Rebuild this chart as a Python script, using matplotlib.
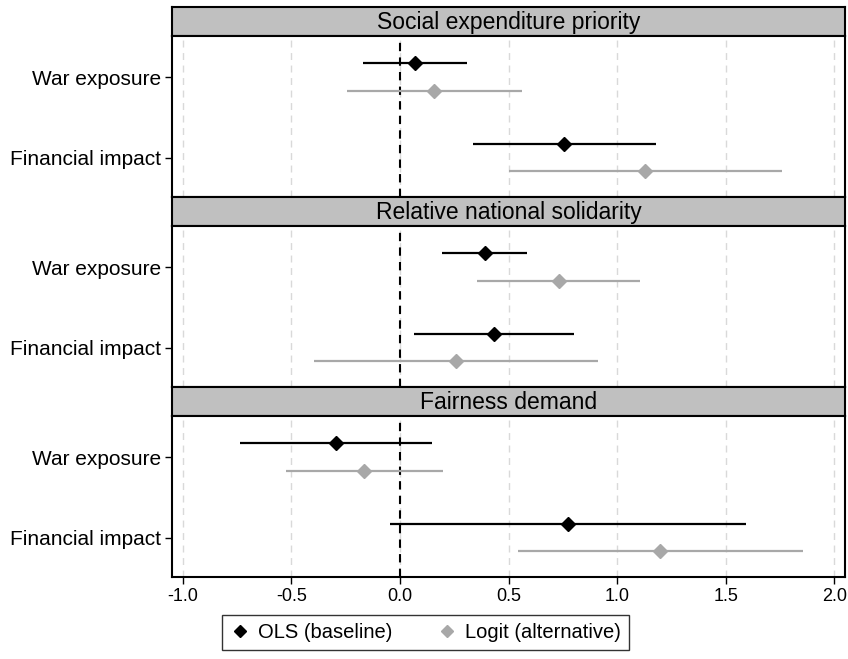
import numpy as np
import matplotlib.pyplot as plt

plt.rcParams['font.family'] = ['Liberation Sans', 'DejaVu Sans']

# outcomes (one panel each) and terms (rows)
panels = ['Social expenditure priority', 'Relative national solidarity', 'Fairness demand']
terms = ['War exposure', 'Financial impact']

# OLS (baseline): estimate, lower, upper
ols_est = [[0.07, 0.754], [0.392, 0.432], [-0.294, 0.772]]
ols_lo = [[-0.17, 0.336], [0.194, 0.066], [-0.738, -0.048]]
ols_hi = [[0.31, 1.18], [0.586, 0.80], [0.148, 1.592]]

# Logit (alternative)
logit_est = [[0.158, 1.13], [0.732, 0.258], [-0.164, 1.196]]
logit_lo = [[-0.244, 0.504], [0.356, -0.394], [-0.526, 0.542]]
logit_hi = [[0.562, 1.758], [1.104, 0.912], [0.196, 1.858]]

W, H = 848, 659
fig = plt.figure(figsize=(W / 100, H / 100), dpi=100)

left, right = 172, 845
panel_top = [7, 197, 387]
head_h = 29
plot_h = 161
gray = '#a8a8a8'

y = np.arange(1, len(terms) + 1)
off = 0.17

for i, name in enumerate(panels):
    top = panel_top[i]
    # header strip
    hax = fig.add_axes([left / W, 1 - (top + head_h) / H, (right - left) / W, head_h / H])
    hax.set_facecolor('#c0c0c0')
    hax.set_xticks([])
    hax.set_yticks([])
    for s in hax.spines.values():
        s.set_linewidth(1.5)
    hax.text(0.5, 0.45, name, ha='center', va='center', fontsize=16.5, transform=hax.transAxes)

    ax = fig.add_axes([left / W, 1 - (top + head_h + plot_h) / H, (right - left) / W, plot_h / H])
    ax.set_xlim(-1.05, 2.05)
    ax.set_ylim(2.49, 0.49)
    for gx in np.arange(-1.0, 2.01, 0.5):
        ax.axvline(gx, color='#d9d9d9', lw=1, ls=(0, (5, 4)), zorder=0)
    ax.axvline(0, color='black', lw=1.5, ls=(0, (4, 3)), zorder=1)

    # OLS
    ax.hlines(y - off, ols_lo[i], ols_hi[i], color='black', lw=1.6, zorder=2)
    ax.plot(ols_est[i], y - off, 'D', color='black', ms=7, zorder=3)
    # Logit
    ax.hlines(y + off, logit_lo[i], logit_hi[i], color=gray, lw=1.6, zorder=2)
    ax.plot(logit_est[i], y + off, 'D', color=gray, ms=7, zorder=3)

    ax.set_yticks(y)
    ax.set_yticklabels(terms, fontsize=15)
    ax.tick_params(axis='y', length=5, width=1, pad=3)
    for s in ax.spines.values():
        s.set_linewidth(1.5)
    ax.set_xticks(np.arange(-1.0, 2.01, 0.5))
    if i < len(panels) - 1:
        ax.tick_params(axis='x', bottom=False, labelbottom=False)
    else:
        ax.set_xticklabels(['-1.0', '-0.5', '0.0', '0.5', '1.0', '1.5', '2.0'])
        ax.tick_params(axis='x', labelsize=13, length=5, width=1, pad=3)

h1 = plt.Line2D([], [], ls='none', marker='D', color='black', ms=6.5)
h2 = plt.Line2D([], [], ls='none', marker='D', color=gray, ms=6.5)
leg = fig.legend([h1, h2], ['OLS (baseline)', 'Logit (alternative)'], loc='lower center',
                 bbox_to_anchor=(0.502, 0.014), ncol=2, fontsize=14.5, frameon=True,
                 fancybox=False, edgecolor='black', handletextpad=0.4, columnspacing=2.2,
                 borderpad=0.4, handlelength=1.0, borderaxespad=0)
leg.get_frame().set_linewidth(1.0)

fig.savefig('out.png', dpi=100)
